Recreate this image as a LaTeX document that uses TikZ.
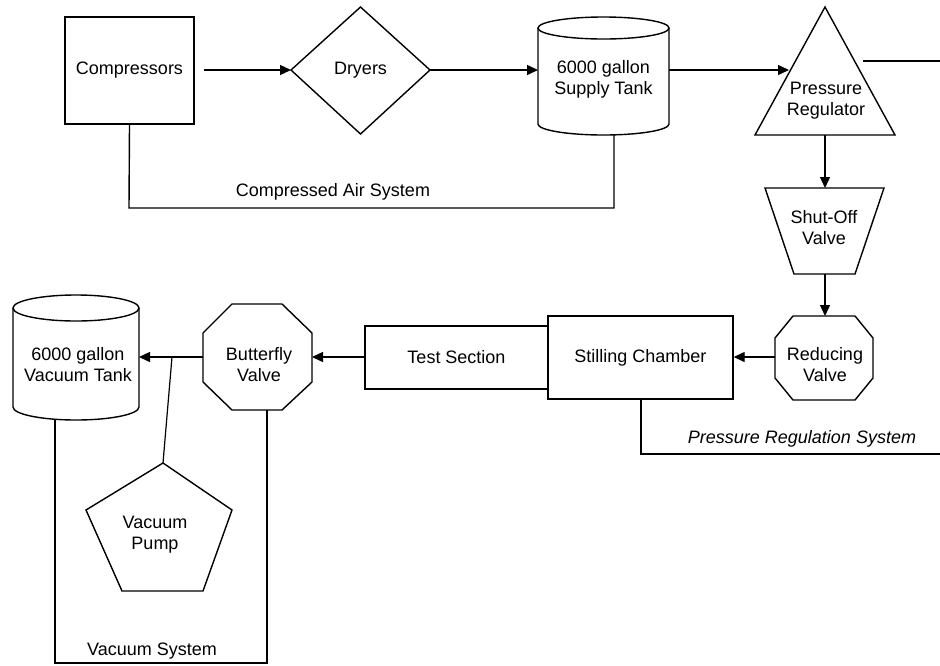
\documentclass[tikz,border=0pt]{standalone}
\usepackage{fontspec}
\setmainfont{Liberation Sans}
\usetikzlibrary{arrows.meta}
\begin{document}
\begin{tikzpicture}[x=1pt,y=-1pt,
  every node/.style={font=\fontsize{18}{21}\selectfont, align=center, inner sep=0pt},
  outline/.style={draw, line width=1.4pt},
  rectbox/.style={draw, line width=1.4pt, fill=white},
  flow/.style={line width=1.4pt, -{Triangle[length=11pt,width=10pt]}},
  thinline/.style={line width=1.4pt},
  sysline/.style={line width=2.8pt}]
\useasboundingbox (0,0) rectangle (940,665);
\fill[white] (0,0) rectangle (940,665);

% ---------- compressed air system ----------
\node[rectbox, minimum width=129pt, minimum height=107pt] (comp) at (129.5,70.5) {Compressors};
\coordinate (compOut) at (204,70);

% dryers (diamond)
\coordinate (dryW) at (291,70);
\coordinate (dryN) at (360.5,7);
\coordinate (dryE) at (430,70);
\coordinate (dryS) at (360.5,134);
\draw[outline] (dryW)--(dryN)--(dryE)--(dryS)--cycle;
\node (dry) at (360.5,70) {Dryers};

% supply tank (cylinder)
\draw[outline] (538,28) -- (538,124) arc[start angle=180,end angle=360,x radius=65.5pt,y radius=11pt] -- (669,28);
\draw[outline] (603.5,28) ellipse[x radius=65.5pt,y radius=11pt];
\node (sup) at (603.5,79) {6000 gallon\\Supply Tank};
\coordinate (supW) at (538,70);
\coordinate (supE) at (669,70);
\coordinate (supS) at (614,135);

% pressure regulator (triangle)
\coordinate (regL) at (755,135);
\coordinate (regT) at (825,7);
\coordinate (regR) at (895,135);
\draw[outline] (regL)--(regT)--(regR)--cycle;
\node (reg) at (826,101) {Pressure\\Regulator};
\coordinate (regIn) at (789,70);
\coordinate (regS) at (825,135);
\coordinate (outA) at (863,61);
\coordinate (outB) at (940,61);

\draw[flow] (compOut) -- (dryW);
\draw[flow] (dryE) -- (supW);
\draw[flow] (supE) -- (regIn);
\draw[thinline] (outA) -- (outB);

\draw[thinline] (comp.south) -- (129,208) -- (614,208) -- (supS);
\node at (333,192) {Compressed Air System};

% ---------- pressure regulation system ----------
% shut-off valve (trapezoid)
\draw[outline] (765,188)--(884,188)--(855,274)--(794,274)--cycle;
\node (shut) at (824,228) {Shut-Off\\Valve};
\coordinate (shutN) at (825,188);
\coordinate (shutS) at (825,274);

% reducing valve (octagon)
\draw[outline] (793,316)--(855,316)--(873,338)--(873,378)--(855,400)--(793,400)--(775,378)--(775,338)--cycle;
\node (red) at (825,365) {Reducing\\Valve};
\coordinate (redN) at (825,316);
\coordinate (redW) at (775,357);

\draw[flow] (regS) -- (shutN);
\draw[flow] (shutS) -- (redN);

% test section and stilling chamber
\node[rectbox, minimum width=183pt, minimum height=63pt] (test) at (456.5,357.5) {Test Section};
\node[rectbox, minimum width=185pt, minimum height=83pt] (still) at (640.5,357.5) {Stilling Chamber};

\draw[flow] (redW) -- (still.east |- redW);

\draw[sysline] (641,399) -- (641,454) -- (940,454);
\node[font=\fontsize{18}{21}\selectfont\itshape] at (802,439) {Pressure Regulation System};

% ---------- vacuum system ----------
% butterfly valve (octagon)
\draw[outline] (232,304)--(282,304)--(312,333)--(312,382)--(282,410)--(232,410)--(203,382)--(203,333)--cycle;
\node (bfly) at (259,365) {Butterfly\\Valve};
\coordinate (bflyE) at (312,357);
\coordinate (bflyW) at (203,357);
\coordinate (bflyS) at (267,410);

% vacuum tank (cylinder)
\draw[outline] (13,308) -- (13,407) arc[start angle=180,end angle=360,x radius=63pt,y radius=13pt] -- (139,308);
\draw[outline] (76,308) ellipse[x radius=63pt,y radius=13pt];
\node (vtank) at (78,365) {6000 gallon\\Vacuum Tank};
\coordinate (vtankE) at (139,357);
\coordinate (vtankS) at (55,419.5);

% vacuum pump (pentagon)
\coordinate (pumpT) at (163,463);
\draw[outline] (pumpT)--(232,510)--(203,591)--(122,591)--(86,510)--cycle;
\node (pump) at (155,535) {Vacuum\\Pump};

\coordinate (junc) at (172,357);

\draw[flow] (test.west |- bflyE) -- (bflyE);
\draw[flow] (bflyW) -- (vtankE);
\draw[line width=1.2pt] (junc) -- (pumpT);

\draw[sysline] (vtankS) -- (55,663) -- (267,663) -- (bflyS);
\node at (152,651) {Vacuum System};
\end{tikzpicture}
\end{document}
